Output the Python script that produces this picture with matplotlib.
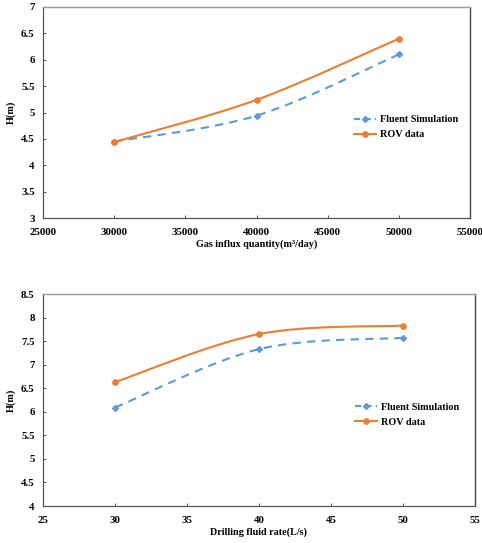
import matplotlib
matplotlib.use("Agg")
import matplotlib.pyplot as plt
from matplotlib.path import Path
from matplotlib.patches import PathPatch
from matplotlib.lines import Line2D
import numpy as np

plt.rcParams['font.family'] = ['Liberation Serif', 'DejaVu Serif']
plt.rcParams['font.weight'] = 'bold'

gas_x = [30000, 40000, 50000]
gas_fluent = [4.45, 4.94, 6.10]
gas_rov = [4.44, 5.24, 6.40]

rate_x = [30, 40, 50]
rate_fluent = [6.09, 7.33, 7.57]
rate_rov = [6.63, 7.65, 7.83]

series_names = ["Fluent Simulation", "ROV data"]
BLUE = "#5B9BD5"
ORANGE = "#ED7D31"

W, H = 482, 543
fig = plt.figure(figsize=(W / 100, H / 100), dpi=100)


def smooth_path(x, y):
    pts = np.column_stack([x, y]).astype(float)
    n = len(pts)
    verts = [pts[0]]
    codes = [Path.MOVETO]
    for i in range(n - 1):
        p0 = pts[i - 1] if i > 0 else pts[i]
        p1 = pts[i]
        p2 = pts[i + 1]
        p3 = pts[i + 2] if i + 2 < n else pts[i + 1]
        c1 = p1 + (p2 - p0) / 6.0
        c2 = p2 - (p3 - p1) / 6.0
        verts += [c1, c2, p2]
        codes += [Path.CURVE4] * 3
    return Path(verts, codes)


def panel(rect, x, fl, rov, xlim, xticks, ylim, yticks, xlabel, leg_x):
    ax = fig.add_axes(rect)
    ax.set_xlim(*xlim)
    ax.set_ylim(*ylim)
    ax.set_xticks(xticks)
    ax.set_yticks(yticks)
    ax.set_xticklabels([f"{t:g}" for t in xticks], fontsize=7.8, fontweight='bold')
    ax.set_yticklabels([f"{t:g}" for t in yticks], fontsize=7.8, fontweight='bold')
    ax.tick_params(direction='in', length=2.5, width=0.7, colors='#555555', labelcolor='black', pad=6)
    ax.tick_params(axis='x', pad=7)
    for s in ['left', 'bottom']:
        ax.spines[s].set_color('#555555')
        ax.spines[s].set_linewidth(0.9)
    ax.spines['top'].set_color('#999999')
    ax.spines['right'].set_color('#444444')
    ax.spines['top'].set_linewidth(1.0)
    ax.spines['right'].set_linewidth(1.0)

    ax.add_patch(PathPatch(smooth_path(x, fl), fill=False, edgecolor=BLUE, lw=1.5,
                           linestyle=(0, (4, 3)), zorder=3))
    ax.add_patch(PathPatch(smooth_path(x, rov), fill=False, edgecolor=ORANGE, lw=1.5, zorder=3))
    ax.plot(x, fl, linestyle='none', marker='D', ms=3, color=BLUE, zorder=4)
    ax.plot(x, rov, linestyle='none', marker='o', ms=3.8, color=ORANGE, zorder=4)

    handles = [Line2D([], [], color=BLUE, lw=1.5, ls=(0, (3, 2)), marker='D', ms=3),
               Line2D([], [], color=ORANGE, lw=1.5, marker='o', ms=3.8)]
    ax.legend(handles, series_names, loc='center left', bbox_to_anchor=(leg_x, 0.43),
              frameon=False, prop={'size': 7.3, 'weight': 'bold'}, handlelength=2.2,
              handletextpad=0.4, labelspacing=0.6)
    ax.set_xlabel(xlabel, fontsize=7.3, fontweight='bold', labelpad=2)
    ax.set_ylabel("H(m)", fontsize=7.3, fontweight='bold', labelpad=4)
    return ax


def rect(l, t, r, b):
    return [l / W, 1 - b / H, (r - l) / W, (b - t) / H]


panel(rect(43, 7, 470, 218), gas_x, gas_fluent, gas_rov, (25000, 55000),
      [25000, 30000, 35000, 40000, 45000, 50000, 55000], (3, 7),
      [3, 3.5, 4, 4.5, 5, 5.5, 6, 6.5, 7], "Gas influx quantity(m³/day)", 0.707)

panel(rect(43, 294, 475, 506), rate_x, rate_fluent, rate_rov, (25, 55),
      [25, 30, 35, 40, 45, 50, 55], (4, 8.5),
      [4, 4.5, 5, 5.5, 6, 6.5, 7, 7.5, 8, 8.5], "Drilling fluid rate(L/s)", 0.700)

fig.savefig("out.png", dpi=100)
